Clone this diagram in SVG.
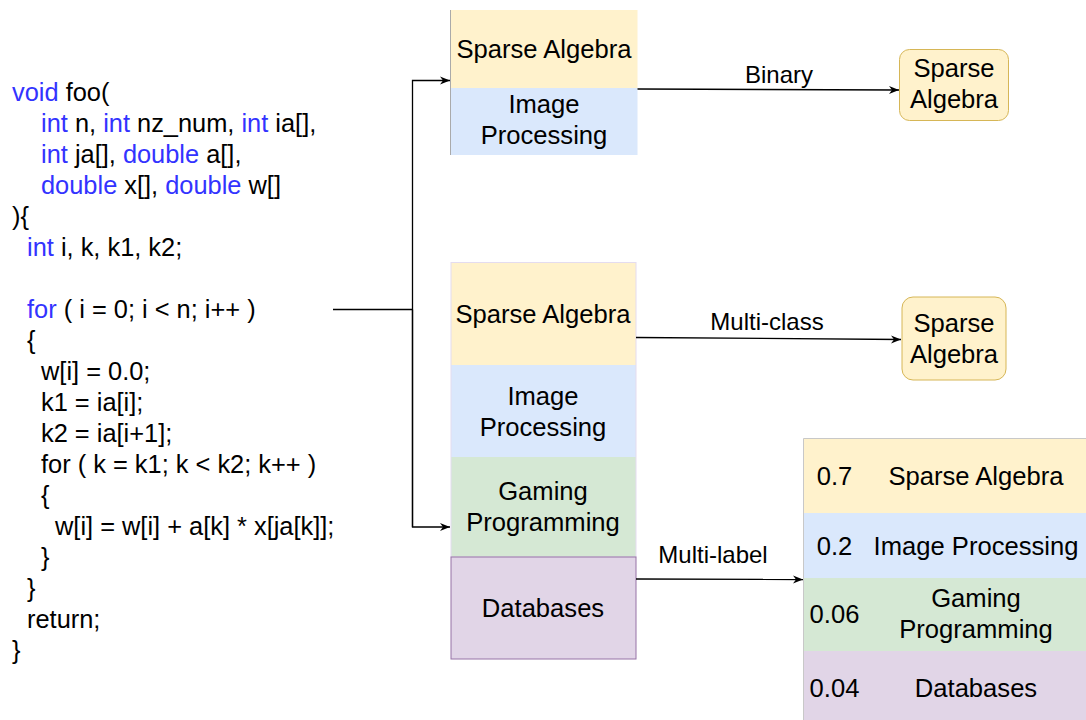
<svg xmlns="http://www.w3.org/2000/svg" width="1086" height="720" viewBox="0 0 1086 720">
  <defs>
    <marker id="arrow" viewBox="0 0 10 10" refX="10" refY="5" markerWidth="10" markerHeight="10" markerUnits="userSpaceOnUse" orient="auto">
      <path d="M0,1 L10,5 L0,9 L3,5 Z" fill="#000"/>
    </marker>
  </defs>
  <style>
    text { font-family: "Liberation Sans", Arial, sans-serif; fill: #000; }
    .code { font-size: 25.4px; }
    .kw { fill: #3333ff; }
    .node { font-size: 25.6px; text-anchor: middle; }
    .lbl { font-size: 24px; text-anchor: middle; }
    .yellow { fill: #fff2cc; }
    .blue { fill: #dae8fc; }
    .green { fill: #d5e8d4; }
    .purple { fill: #e1d5e7; }
    .edge { fill: none; stroke: #000; stroke-width: 1.3; }
  </style>
  <rect width="1086" height="720" fill="#fff"/>

  <!-- source code listing -->
  <g id="code" class="code">
    <text x="12" y="101"><tspan class="kw">void</tspan> foo(</text>
    <text x="41" y="132"><tspan class="kw">int</tspan> n, <tspan class="kw">int</tspan> nz_num, <tspan class="kw">int</tspan> ia[],</text>
    <text x="41" y="163"><tspan class="kw">int</tspan> ja[], <tspan class="kw">double</tspan> a[],</text>
    <text x="41" y="194"><tspan class="kw">double</tspan> x[], <tspan class="kw">double</tspan> w[]</text>
    <text x="12" y="225">){</text>
    <text x="27" y="256"><tspan class="kw">int</tspan> i, k, k1, k2;</text>
    <text x="27" y="318"><tspan class="kw">for</tspan> ( i = 0; i &lt; n; i++ )</text>
    <text x="27" y="349">{</text>
    <text x="41" y="380">w[i] = 0.0;</text>
    <text x="41" y="411">k1 = ia[i];</text>
    <text x="41" y="442">k2 = ia[i+1];</text>
    <text x="41" y="473">for ( k = k1; k &lt; k2; k++ )</text>
    <text x="41" y="504">{</text>
    <text x="55" y="535">w[i] = w[i] + a[k] * x[ja[k]];</text>
    <text x="41" y="566">}</text>
    <text x="27" y="597">}</text>
    <text x="27" y="628">return;</text>
    <text x="12" y="659">}</text>
  </g>

  <!-- top stack: binary candidates -->
  <g id="stack-binary">
    <rect class="yellow" x="450.5" y="10" width="187" height="78"/>
    <rect class="blue" x="450.5" y="88" width="187" height="67"/>
    <line x1="450.5" y1="10" x2="450.5" y2="155" stroke="#aaa" stroke-width="1"/>
    <text class="node" x="544" y="58">Sparse Algebra</text>
    <text class="node" x="544" y="113">Image</text>
    <text class="node" x="544" y="144">Processing</text>
  </g>

  <!-- middle stack: multi-class candidates -->
  <g id="stack-multiclass">
    <rect class="yellow" x="451" y="262.5" width="185" height="102.5"/>
    <rect class="blue" x="451" y="365" width="185" height="92"/>
    <rect class="green" x="451" y="457" width="185" height="100"/>
    <rect x="451" y="262.5" width="185" height="294.5" fill="none" stroke="#e4dcef" stroke-width="1"/>
    <rect class="purple" x="451" y="557" width="185" height="102" stroke="#9673a6" stroke-width="1"/>
    <text class="node" x="543" y="323">Sparse Algebra</text>
    <text class="node" x="543" y="405">Image</text>
    <text class="node" x="543" y="436">Processing</text>
    <text class="node" x="543" y="500">Gaming</text>
    <text class="node" x="543" y="531">Programming</text>
    <text class="node" x="543" y="617">Databases</text>
  </g>

  <!-- single-label results -->
  <g id="result-binary">
    <rect x="899.5" y="49.5" width="109" height="71" rx="10" fill="#fff2cc" stroke="#d6b656" stroke-width="1"/>
    <text class="node" x="954" y="77">Sparse</text>
    <text class="node" x="954" y="108">Algebra</text>
  </g>
  <g id="result-multiclass">
    <rect x="902" y="297" width="104" height="83" rx="11" fill="#fff2cc" stroke="#d6b656" stroke-width="1"/>
    <text class="node" x="954" y="332">Sparse</text>
    <text class="node" x="954" y="363">Algebra</text>
  </g>

  <!-- multi-label scored result -->
  <g id="result-multilabel">
    <rect class="yellow" x="803.5" y="438.5" width="283" height="74.5"/>
    <rect class="blue" x="803.5" y="513" width="283" height="65"/>
    <rect class="green" x="803.5" y="578" width="283" height="73"/>
    <rect class="purple" x="803.5" y="651" width="283" height="70"/>
    <path d="M803.5,720 V438.5 H1086" fill="none" stroke="#c8c8c8" stroke-width="1"/>
    <text class="node" x="834.5" y="485">0.7</text>
    <text class="node" x="976" y="485">Sparse Algebra</text>
    <text class="node" x="834.5" y="555">0.2</text>
    <text class="node" x="976" y="555">Image Processing</text>
    <text class="node" x="834.5" y="623">0.06</text>
    <text class="node" x="976" y="607">Gaming</text>
    <text class="node" x="976" y="638">Programming</text>
    <text class="node" x="834.5" y="697">0.04</text>
    <text class="node" x="976" y="697">Databases</text>
  </g>

  <!-- connectors -->
  <g id="connectors">
    <path class="edge" d="M333,309.5 H412.5"/>
    <path class="edge" d="M412.5,527 V80.5 H450" marker-end="url(#arrow)"/>
    <path class="edge" d="M412.5,309.5 V527 H450" marker-end="url(#arrow)"/>
    <path class="edge" d="M637.5,89 L899,90" marker-end="url(#arrow)"/>
    <text class="lbl" x="779" y="83">Binary</text>
    <path class="edge" d="M636,337.5 L901,339.5" marker-end="url(#arrow)"/>
    <text class="lbl" x="767" y="330">Multi-class</text>
    <path class="edge" d="M636,579 L803,579.5" marker-end="url(#arrow)"/>
    <text class="lbl" x="713" y="563">Multi-label</text>
  </g>
</svg>
